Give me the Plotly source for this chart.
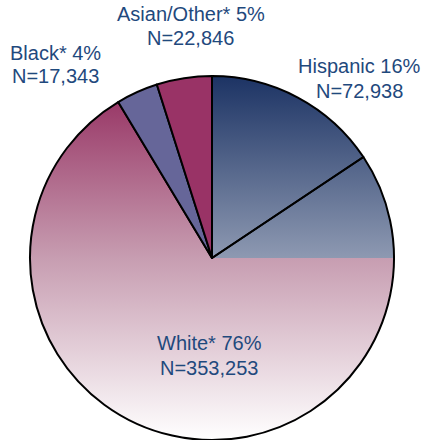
import base64
import plotly.graph_objects as go

# ---- data ----
groups = ["Hispanic", "White*", "Black*", "Asian/Other*"]
counts = [72938, 353253, 17343, 22846]

total = sum(counts)
pcts = [round(100 * c / total) for c in counts]

# ---- styles ----
text_color = "#1f497d"
font_family = "Liberation Sans, Arial, sans-serif"
# White & Hispanic are gradient-filled (shown through transparent slices), others solid
slice_colors = ["rgba(0,0,0,0)", "rgba(0,0,0,0)", "#666699", "#993366"]


def svg_uri(svg):
    return "data:image/svg+xml;base64," + base64.b64encode(svg.encode()).decode()


disc_svg = (
    '<svg xmlns="http://www.w3.org/2000/svg" viewBox="0 0 100 100" preserveAspectRatio="none">'
    '<defs><linearGradient id="g" x1="0" y1="0" x2="0" y2="1">'
    '<stop offset="0" stop-color="#92295c"/><stop offset="0.5" stop-color="#c79db1"/>'
    '<stop offset="1" stop-color="#ffffff"/></linearGradient></defs>'
    '<circle cx="50" cy="50" r="50" fill="url(#g)"/></svg>'
)
quarter_svg = (
    '<svg xmlns="http://www.w3.org/2000/svg" viewBox="0 0 100 100" preserveAspectRatio="none">'
    '<defs><linearGradient id="h" x1="0" y1="0" x2="0" y2="1">'
    '<stop offset="0" stop-color="#1c3364"/><stop offset="1" stop-color="#ffffff"/>'
    '</linearGradient></defs>'
    '<circle cx="0" cy="100" r="100" fill="url(#h)"/></svg>'
)

fig = go.Figure(
    go.Pie(
        labels=groups,
        values=counts,
        sort=False,
        direction="clockwise",
        rotation=0,
        textinfo="none",
        hoverinfo="label+value+percent",
        marker=dict(colors=slice_colors, line=dict(color="black", width=2)),
        showlegend=False,
        domain=dict(x=[0, 1], y=[0, 1]),
    )
)

# label placement (paper coords): x center, y of line 1, y of line 2
label_pos = {
    "Hispanic": (0.904, 1.0275, 0.959),
    "White*": (0.492, 0.2665, 0.198),
    "Black*": (0.069, 1.063, 1.0),
    "Asian/Other*": (0.442, 1.170, 1.104),
}
annotations = []
for g, c, p in zip(groups, counts, pcts):
    x, y1, y2 = label_pos[g]
    for txt, yy in ((f"{g} {p}%", y1), (f"N={c:,}", y2)):
        annotations.append(
            dict(
                text=txt,
                x=x, y=yy, xref="paper", yref="paper",
                xanchor="center", yanchor="middle",
                showarrow=False,
                font=dict(size=20, color=text_color, family=font_family),
            )
        )

fig.update_layout(
    width=421,
    height=440,
    margin=dict(l=30, r=27, t=76, b=0),
    paper_bgcolor="white",
    plot_bgcolor="white",
    annotations=annotations,
    images=[
        dict(source=svg_uri(disc_svg), xref="paper", yref="paper", x=0, y=1,
             sizex=1, sizey=1, xanchor="left", yanchor="top", sizing="stretch", layer="below"),
        dict(source=svg_uri(quarter_svg), xref="paper", yref="paper", x=0.5, y=1,
             sizex=0.5, sizey=0.5, xanchor="left", yanchor="top", sizing="stretch", layer="below"),
    ],
)

fig.write_html(
    "out.html",
    config={"displayModeBar": False},
    post_script="document.body.style.margin='0';document.body.style.overflow='hidden';",
)
